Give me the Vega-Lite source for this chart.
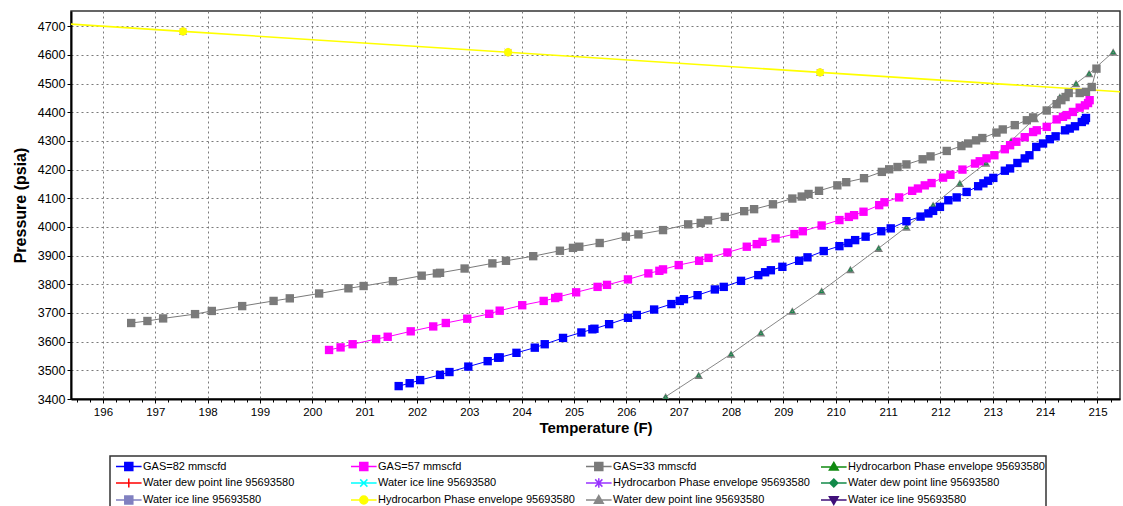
{
  "$schema": "https://vega.github.io/schema/vega-lite/v6.json",
  "width": 1049,
  "height": 388,
  "autosize": {"type": "none"},
  "padding": {"left": 71, "top": 11, "right": 3, "bottom": 107},
  "background": "white",
  "config": {
    "font": "Liberation Sans",
    "view": {"stroke": "#333333", "strokeWidth": 1.5},
    "axis": {
      "labelColor": "black", "titleColor": "black", "domainColor": "black", "domainWidth": 2,
      "tickColor": "black", "gridColor": "#7a7a7a", "gridDash": [2, 3], "gridWidth": 1,
      "labelFont": "Liberation Sans", "titleFont": "Liberation Sans"
    },
    "legend": {"strokeWidth": 1.5}
  },
  "data": {"values": [
    {"s":"01","t":201.65,"p":3445},{"s":"01","t":201.86,"p":3455},{"s":"01","t":202.06,"p":3466},{"s":"01","t":202.44,"p":3484},
    {"s":"01","t":202.62,"p":3494},{"s":"01","t":202.98,"p":3513},{"s":"01","t":203.35,"p":3532},{"s":"01","t":203.55,"p":3544},
    {"s":"01","t":203.58,"p":3545},{"s":"01","t":203.90,"p":3561},{"s":"01","t":204.25,"p":3579},{"s":"01","t":204.44,"p":3591},
    {"s":"01","t":204.79,"p":3613},{"s":"01","t":205.14,"p":3632},{"s":"01","t":205.35,"p":3643},{"s":"01","t":205.39,"p":3645},
    {"s":"01","t":205.67,"p":3661},{"s":"01","t":206.03,"p":3683},{"s":"01","t":206.20,"p":3693},{"s":"01","t":206.53,"p":3712},
    {"s":"01","t":206.86,"p":3731},{"s":"01","t":207.02,"p":3742},{"s":"01","t":207.10,"p":3748},{"s":"01","t":207.36,"p":3762},
    {"s":"01","t":207.69,"p":3782},{"s":"01","t":207.86,"p":3791},{"s":"01","t":208.19,"p":3812},{"s":"01","t":208.52,"p":3832},
    {"s":"01","t":208.65,"p":3842},{"s":"01","t":208.76,"p":3849},{"s":"01","t":208.98,"p":3861},{"s":"01","t":209.30,"p":3882},
    {"s":"01","t":209.46,"p":3894},{"s":"01","t":209.77,"p":3916},{"s":"01","t":210.07,"p":3933},{"s":"01","t":210.24,"p":3944},
    {"s":"01","t":210.37,"p":3954},{"s":"01","t":210.57,"p":3966},{"s":"01","t":210.87,"p":3985},{"s":"01","t":211.05,"p":3995},
    {"s":"01","t":211.35,"p":4020},{"s":"01","t":211.62,"p":4036},{"s":"01","t":211.77,"p":4047},{"s":"01","t":211.86,"p":4056},
    {"s":"01","t":211.99,"p":4070},{"s":"01","t":212.15,"p":4093},{"s":"01","t":212.31,"p":4103},{"s":"01","t":212.50,"p":4122},
    {"s":"01","t":212.72,"p":4142},{"s":"01","t":212.82,"p":4152},{"s":"01","t":212.91,"p":4161},{"s":"01","t":213.01,"p":4171},
    {"s":"01","t":213.23,"p":4196},{"s":"01","t":213.33,"p":4204},{"s":"01","t":213.47,"p":4223},{"s":"01","t":213.61,"p":4239},
    {"s":"01","t":213.70,"p":4250},{"s":"01","t":213.83,"p":4279},{"s":"01","t":213.96,"p":4291},{"s":"01","t":214.09,"p":4306},
    {"s":"01","t":214.20,"p":4316},{"s":"01","t":214.38,"p":4337},{"s":"01","t":214.47,"p":4343},{"s":"01","t":214.57,"p":4351},
    {"s":"01","t":214.70,"p":4366},{"s":"01","t":214.76,"p":4372},{"s":"01","t":214.78,"p":4380},

    {"s":"02","t":200.32,"p":3571},{"s":"02","t":200.54,"p":3580},{"s":"02","t":200.77,"p":3591},{"s":"02","t":201.22,"p":3609},
    {"s":"02","t":201.44,"p":3617},{"s":"02","t":201.88,"p":3636},{"s":"02","t":202.31,"p":3653},{"s":"02","t":202.55,"p":3665},
    {"s":"02","t":202.96,"p":3680},{"s":"02","t":203.38,"p":3697},{"s":"02","t":203.58,"p":3708},{"s":"02","t":204.01,"p":3727},
    {"s":"02","t":204.42,"p":3742},{"s":"02","t":204.64,"p":3752},{"s":"02","t":204.70,"p":3756},{"s":"02","t":205.04,"p":3772},
    {"s":"02","t":205.45,"p":3791},{"s":"02","t":205.63,"p":3798},{"s":"02","t":206.03,"p":3817},{"s":"02","t":206.42,"p":3838},
    {"s":"02","t":206.63,"p":3847},{"s":"02","t":206.70,"p":3852},{"s":"02","t":207.00,"p":3867},{"s":"02","t":207.39,"p":3882},
    {"s":"02","t":207.57,"p":3892},{"s":"02","t":207.93,"p":3911},{"s":"02","t":208.30,"p":3931},{"s":"02","t":208.49,"p":3940},
    {"s":"02","t":208.60,"p":3948},{"s":"02","t":208.85,"p":3960},{"s":"02","t":209.21,"p":3975},{"s":"02","t":209.37,"p":3985},
    {"s":"02","t":209.73,"p":4005},{"s":"02","t":210.07,"p":4024},{"s":"02","t":210.25,"p":4035},{"s":"02","t":210.35,"p":4041},
    {"s":"02","t":210.53,"p":4053},{"s":"02","t":210.83,"p":4076},{"s":"02","t":210.93,"p":4086},{"s":"02","t":211.21,"p":4103},
    {"s":"02","t":211.46,"p":4126},{"s":"02","t":211.57,"p":4134},{"s":"02","t":211.70,"p":4145},{"s":"02","t":211.83,"p":4153},
    {"s":"02","t":212.05,"p":4172},{"s":"02","t":212.19,"p":4182},{"s":"02","t":212.42,"p":4200},{"s":"02","t":212.66,"p":4221},
    {"s":"02","t":212.75,"p":4229},{"s":"02","t":212.88,"p":4239},{"s":"02","t":213.03,"p":4250},{"s":"02","t":213.23,"p":4271},
    {"s":"02","t":213.33,"p":4285},{"s":"02","t":213.45,"p":4297},{"s":"02","t":213.61,"p":4313},{"s":"02","t":213.77,"p":4331},
    {"s":"02","t":213.84,"p":4337},{"s":"02","t":214.03,"p":4349},{"s":"02","t":214.22,"p":4375},{"s":"02","t":214.34,"p":4384},
    {"s":"02","t":214.41,"p":4390},{"s":"02","t":214.53,"p":4401},{"s":"02","t":214.66,"p":4416},{"s":"02","t":214.76,"p":4424},
    {"s":"02","t":214.82,"p":4432},{"s":"02","t":214.85,"p":4442},

    {"s":"03","t":196.54,"p":3665},{"s":"03","t":196.85,"p":3672},{"s":"03","t":197.15,"p":3681},{"s":"03","t":197.76,"p":3696},
    {"s":"03","t":198.08,"p":3707},{"s":"03","t":198.66,"p":3724},{"s":"03","t":199.26,"p":3742},{"s":"03","t":199.57,"p":3751},
    {"s":"03","t":200.13,"p":3768},{"s":"03","t":200.69,"p":3786},{"s":"03","t":200.98,"p":3794},{"s":"03","t":201.54,"p":3811},
    {"s":"03","t":202.09,"p":3830},{"s":"03","t":202.38,"p":3838},{"s":"03","t":202.44,"p":3840},{"s":"03","t":202.91,"p":3855},
    {"s":"03","t":203.44,"p":3873},{"s":"03","t":203.70,"p":3882},{"s":"03","t":204.22,"p":3898},{"s":"03","t":204.73,"p":3917},
    {"s":"03","t":204.98,"p":3927},{"s":"03","t":205.10,"p":3931},{"s":"03","t":205.49,"p":3944},{"s":"03","t":205.99,"p":3966},
    {"s":"03","t":206.23,"p":3974},{"s":"03","t":206.70,"p":3989},{"s":"03","t":207.18,"p":4009},{"s":"03","t":207.42,"p":4014},
    {"s":"03","t":207.56,"p":4023},{"s":"03","t":207.88,"p":4035},{"s":"03","t":208.25,"p":4055},{"s":"03","t":208.44,"p":4062},
    {"s":"03","t":208.80,"p":4079},{"s":"03","t":209.17,"p":4099},{"s":"03","t":209.35,"p":4106},{"s":"03","t":209.48,"p":4115},
    {"s":"03","t":209.68,"p":4126},{"s":"03","t":210.03,"p":4145},{"s":"03","t":210.20,"p":4156},{"s":"03","t":210.54,"p":4170},
    {"s":"03","t":210.88,"p":4192},{"s":"03","t":211.02,"p":4201},{"s":"03","t":211.18,"p":4209},{"s":"03","t":211.35,"p":4218},
    {"s":"03","t":211.66,"p":4236},{"s":"03","t":211.81,"p":4246},{"s":"03","t":212.12,"p":4265},{"s":"03","t":212.40,"p":4282},
    {"s":"03","t":212.53,"p":4291},{"s":"03","t":212.68,"p":4302},{"s":"03","t":212.80,"p":4310},{"s":"03","t":213.07,"p":4329},
    {"s":"03","t":213.19,"p":4340},{"s":"03","t":213.42,"p":4355},{"s":"03","t":213.65,"p":4372},{"s":"03","t":213.77,"p":4382},
    {"s":"03","t":214.03,"p":4406},{"s":"03","t":214.22,"p":4428},{"s":"03","t":214.31,"p":4442},{"s":"03","t":214.39,"p":4453},
    {"s":"03","t":214.45,"p":4467},{"s":"03","t":214.66,"p":4467},{"s":"03","t":214.78,"p":4471},{"s":"03","t":214.89,"p":4488},
    {"s":"03","t":214.98,"p":4552},

    {"s":"04","t":197.53,"p":4682},{"s":"04","t":203.74,"p":4609},{"s":"04","t":209.70,"p":4539},
    {"s":"07","t":197.53,"p":4682},{"s":"07","t":203.74,"p":4609},{"s":"07","t":209.70,"p":4539},
    {"s":"10","t":191.40,"p":4754},{"s":"10","t":197.53,"p":4682},{"s":"10","t":203.74,"p":4609},{"s":"10","t":209.70,"p":4539},{"s":"10","t":215.80,"p":4467},

    {"s":"11","t":206.75,"p":3408},{"s":"11","t":207.38,"p":3483},{"s":"11","t":208.00,"p":3557},{"s":"11","t":208.57,"p":3631},
    {"s":"11","t":209.17,"p":3707},{"s":"11","t":209.73,"p":3777},{"s":"11","t":210.28,"p":3852},{"s":"11","t":210.82,"p":3926},
    {"s":"11","t":211.35,"p":4000},{"s":"11","t":211.86,"p":4076},{"s":"11","t":212.37,"p":4152},{"s":"11","t":212.87,"p":4223},
    {"s":"11","t":213.35,"p":4300},{"s":"11","t":213.80,"p":4378},{"s":"11","t":214.28,"p":4453},{"s":"11","t":214.59,"p":4500},
    {"s":"11","t":214.84,"p":4535},{"s":"11","t":215.30,"p":4610}
  ]},
  "encoding": {
    "x": {"field": "t", "type": "quantitative", "scale": {"domain": [195.39, 215.43], "nice": false, "zero": false},
      "axis": {"orient": "bottom",
        "values": [195.5,195.75,196,196.25,196.5,196.75,197,197.25,197.5,197.75,198,198.25,198.5,198.75,199,199.25,199.5,199.75,200,200.25,200.5,200.75,201,201.25,201.5,201.75,202,202.25,202.5,202.75,203,203.25,203.5,203.75,204,204.25,204.5,204.75,205,205.25,205.5,205.75,206,206.25,206.5,206.75,207,207.25,207.5,207.75,208,208.25,208.5,208.75,209,209.25,209.5,209.75,210,210.25,210.5,210.75,211,211.25,211.5,211.75,212,212.25,212.5,212.75,213,213.25,213.5,213.75,214,214.25,214.5,214.75,215,215.25],
        "labelExpr": "datum.value % 1 == 0 ? format(datum.value, 'd') : ''",
        "labelOverlap": false,
        "grid": true,
        "gridOpacity": {"condition": {"test": "datum.value % 1 == 0", "value": 1}, "value": 0},
        "tickSize": {"condition": {"test": "datum.value % 1 == 0", "value": 4}, "value": 3},
        "labelFontSize": 11.5, "labelPadding": 3,
        "title": "Temperature (F)", "titleFontSize": 15, "titleFontWeight": "bold", "titlePadding": 3}},
    "y": {"field": "p", "type": "quantitative", "scale": {"domain": [3400, 4753], "nice": false, "zero": false},
      "axis": {"orient": "left", "values": [3400,3500,3600,3700,3800,3900,4000,4100,4200,4300,4400,4500,4600,4700],
        "format": "d", "grid": true, "labelFontSize": 12.5, "tickSize": 4, "labelPadding": 2, "labelOverlap": false,
        "title": "Pressure (psia)", "titleFontSize": 16, "titleFontWeight": "bold", "titlePadding": 9}}
  },
  "layer": [
    {
      "transform": [{"filter": "false"}],
      "mark": {"type": "point", "filled": true, "opacity": 1},
      "encoding": {
        "color": {"field": "s", "type": "nominal",
          "scale": {"domain": ["01","02","03","04","05","06","07","08","09","10","11","12"],
            "range": ["#0000ff","#ff00ff","#7a7a7a","#118a11","#ff0000","#00ffff","#9933ff","#138a4a","#8080c0","#ffff00","#888888","#40107a"]},
          "legend": {"orient": "none", "legendX": 39, "legendY": 445, "title": null, "direction": "horizontal", "columns": 4, "gridAlign": "all",
            "columnPadding": 6, "rowPadding": 0, "padding": 1, "strokeColor": "#333333", "fillColor": "white",
            "labelFontSize": 11, "labelColor": "black", "labelOffset": 14, "labelLimit": 400, "symbolSize": 256, "symbolStrokeWidth": 1.5,
            "labelExpr": "datum.label == '01' ? 'GAS=82 mmscfd' : datum.label == '02' ? 'GAS=57 mmscfd' : datum.label == '03' ? 'GAS=33 mmscfd' : indexof(['04','07','10'], datum.label) >= 0 ? 'Hydrocarbon Phase envelope 95693580' : indexof(['05','08','11'], datum.label) >= 0 ? 'Water dew point line 95693580' : 'Water ice line 95693580'",
            "encode": {"symbols": {"update": {"stroke": {"scale": "color", "field": "value"}, "strokeWidth": {"value": 1.5}, "fill": {"scale": "color", "field": "value"}}}}}},
        "shape": {"field": "s", "type": "nominal",
          "scale": {"domain": ["01","02","03","04","05","06","07","08","09","10","11","12"],
            "range": [
              "M-0.5,0H2.7M0.6,-0.5H1.6V0.5H0.6Z",
              "M-0.5,0H2.7M0.6,-0.5H1.6V0.5H0.6Z",
              "M-0.5,0H2.7M0.6,-0.5H1.6V0.5H0.6Z",
              "M-0.5,0H2.7M1.1,-0.55L1.65,0.4H0.55Z",
              "M-0.5,0H2.7M1.1,-0.55V0.55",
              "M-0.5,0H2.7M0.65,-0.45L1.55,0.45M0.65,0.45L1.55,-0.45",
              "M-0.5,0H2.7M0.65,-0.45L1.55,0.45M0.65,0.45L1.55,-0.45M1.1,-0.6V0.6",
              "M-0.5,0H2.7M1.1,-0.5L1.6,0L1.1,0.5L0.6,0Z",
              "M-0.5,0H2.7M0.6,-0.5H1.6V0.5H0.6Z",
              "M-0.5,0H2.7M0.6,0A0.5,0.5,0,1,0,1.6,0A0.5,0.5,0,1,0,0.6,0Z",
              "M-0.5,0H2.7M1.1,-0.55L1.65,0.4H0.55Z",
              "M-0.5,0H2.7M1.1,0.55L1.65,-0.4H0.55Z"
            ]},
          "legend": {"orient": "none", "legendX": 39, "legendY": 445, "title": null, "direction": "horizontal", "columns": 4, "gridAlign": "all",
            "columnPadding": 6, "rowPadding": 0, "padding": 1, "strokeColor": "#333333", "fillColor": "white",
            "labelFontSize": 11, "labelColor": "black", "labelOffset": 14, "labelLimit": 400, "symbolSize": 256, "symbolStrokeWidth": 1.5,
            "labelExpr": "datum.label == '01' ? 'GAS=82 mmscfd' : datum.label == '02' ? 'GAS=57 mmscfd' : datum.label == '03' ? 'GAS=33 mmscfd' : indexof(['04','07','10'], datum.label) >= 0 ? 'Hydrocarbon Phase envelope 95693580' : indexof(['05','08','11'], datum.label) >= 0 ? 'Water dew point line 95693580' : 'Water ice line 95693580'",
            "encode": {"symbols": {"update": {"stroke": {"scale": "color", "field": "value"}, "strokeWidth": {"value": 1.5}, "fill": {"scale": "color", "field": "value"}}}}}}
      }
    },
    {
      "transform": [{"filter": {"field": "s", "oneOf": ["01","02","03","11"]}}],
      "mark": {"type": "line", "strokeWidth": 1, "clip": true},
      "encoding": {
        "color": {"field": "s", "type": "nominal",
          "scale": {"domain": ["01","02","03","04","05","06","07","08","09","10","11","12"],
            "range": ["#0000ff","#ff00ff","#7a7a7a","#118a11","#ff0000","#00ffff","#9933ff","#138a4a","#8080c0","#ffff00","#888888","#40107a"]},
          "legend": null},
        "detail": {"field": "s"}
      }
    },
    {
      "transform": [{"filter": "datum.s == '10'"}],
      "mark": {"type": "line", "strokeWidth": 1.6, "color": "#ffff00", "clip": true}
    },
    {
      "transform": [{"filter": "datum.s == '11'"}],
      "mark": {"type": "point", "shape": "triangle-up", "filled": true, "opacity": 1, "color": "#7f7f7f", "size": 75, "clip": true}
    },
    {
      "transform": [{"filter": "datum.s == '11'"}],
      "mark": {"type": "point", "shape": "triangle-up", "filled": false, "opacity": 1, "color": "#138a4a", "size": 14, "strokeWidth": 1, "clip": true}
    },
    {
      "transform": [{"filter": {"field": "s", "oneOf": ["01","02","03"]}}],
      "mark": {"type": "point", "shape": "square", "filled": true, "opacity": 1, "size": 70, "clip": true},
      "encoding": {
        "color": {"field": "s", "type": "nominal",
          "scale": {"domain": ["01","02","03","04","05","06","07","08","09","10","11","12"],
            "range": ["#0000ff","#ff00ff","#7a7a7a","#118a11","#ff0000","#00ffff","#9933ff","#138a4a","#8080c0","#ffff00","#888888","#40107a"]},
          "legend": null}
      }
    },
    {
      "transform": [{"filter": "datum.s == '04'"}],
      "mark": {"type": "point", "shape": "triangle-up", "filled": true, "opacity": 1, "color": "#118a11", "size": 55, "clip": true}
    },
    {
      "transform": [{"filter": "datum.s == '07'"}],
      "mark": {"type": "point", "shape": "M-1,-1L1,1M-1,1L1,-1M0,-1.3V1.3", "filled": false, "opacity": 1, "color": "#9933ff", "size": 45, "strokeWidth": 1, "clip": true}
    },
    {
      "transform": [{"filter": "datum.s == '10'"}],
      "mark": {"type": "point", "shape": "circle", "filled": true, "opacity": 1, "color": "#ffff00", "size": 70, "clip": true}
    }
  ]
}
